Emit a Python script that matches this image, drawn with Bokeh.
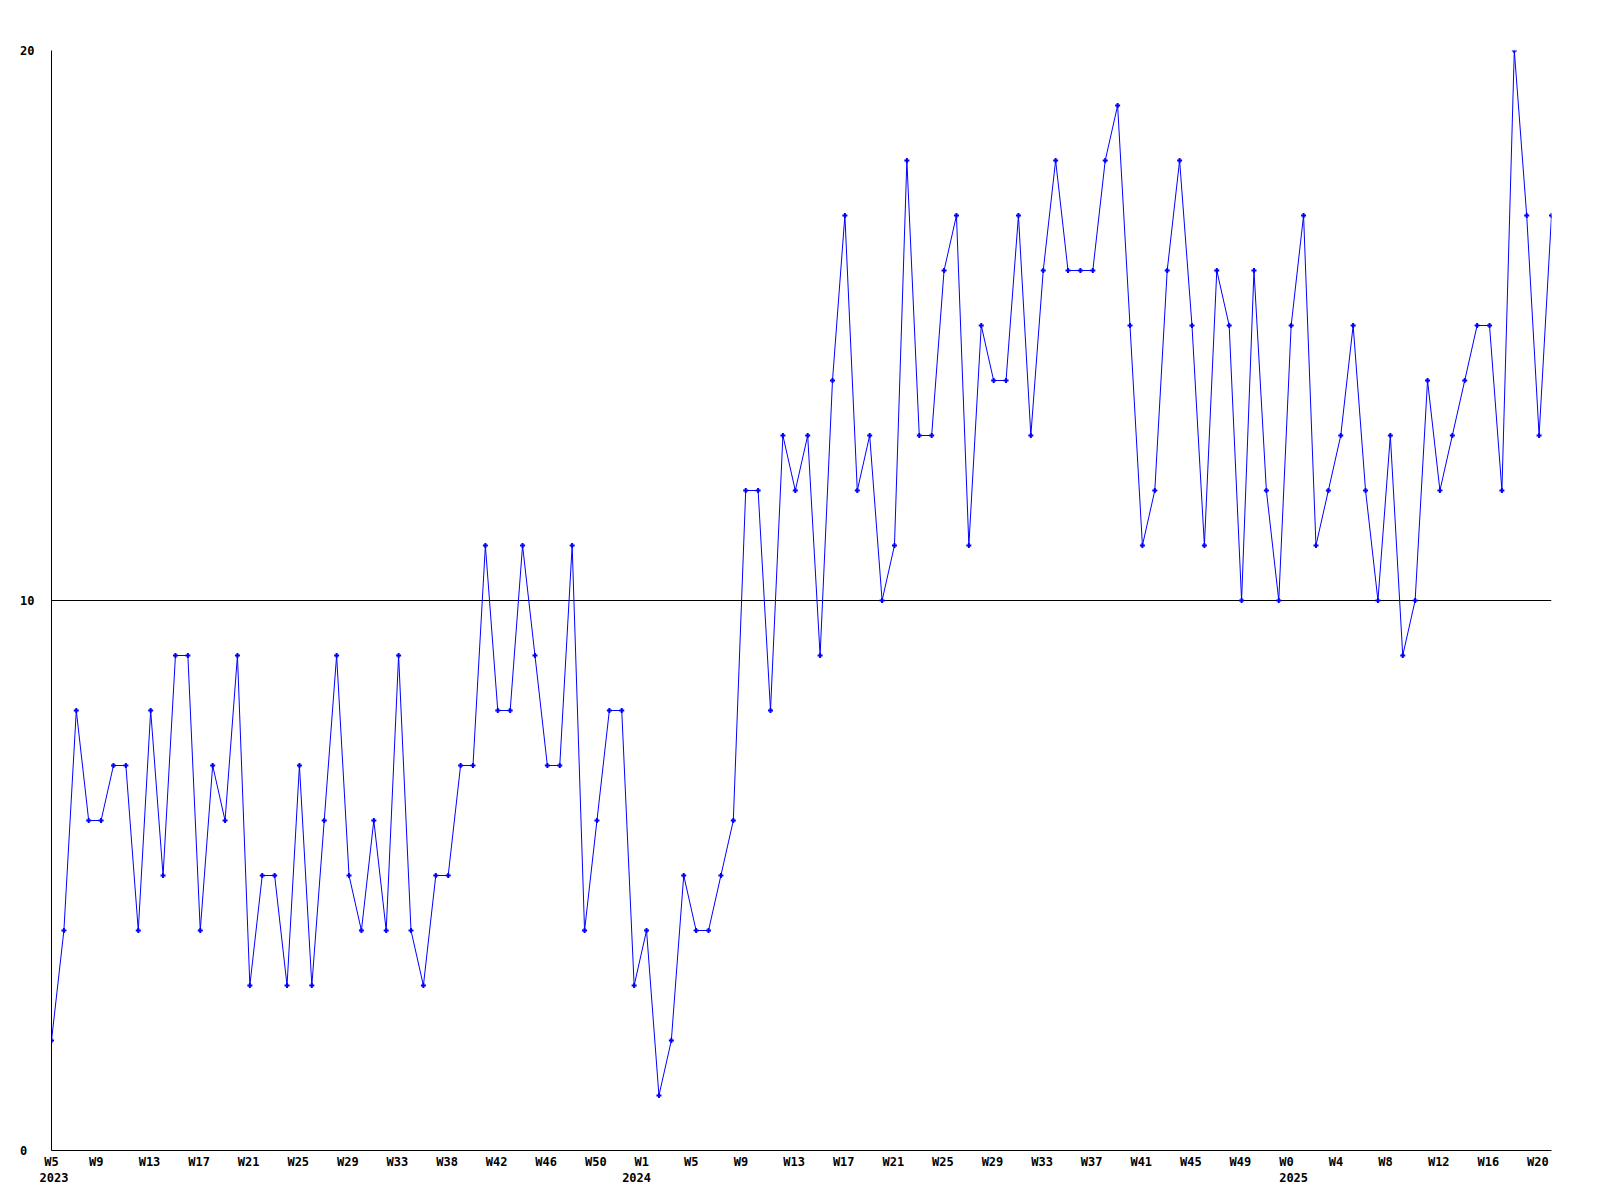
from bokeh.plotting import figure
from bokeh.models import FixedTicker, LinearAxis, Range1d
from bokeh.embed import file_html
from bokeh.resources import INLINE

# Weekly values, 2023 W5 .. 2025 W21 (122 weeks)
values = [
    2, 4, 8, 6, 6, 7, 7, 4, 8, 5, 9, 9, 4, 7, 6, 9, 3, 5, 5, 3,
    7, 3, 6, 9, 5, 4, 6, 4, 9, 4, 3, 5, 5, 7, 7, 11, 8, 8, 11, 9,
    7, 7, 11, 4, 6, 8, 8, 3, 4, 1, 2, 5, 4, 4, 5, 6, 12, 12, 8, 13,
    12, 13, 9, 14, 17, 12, 13, 10, 11, 18, 13, 13, 16, 17, 11, 15, 14, 14, 17, 13,
    16, 18, 16, 16, 16, 18, 19, 15, 11, 12, 16, 18, 15, 11, 16, 15, 10, 16, 12, 10,
    15, 17, 11, 12, 13, 15, 12, 10, 13, 9, 10, 14, 12, 13, 14, 15, 15, 12, 20, 17,
    13, 17,
]

week_labels = ["W5", "W9", "W13", "W17", "W21", "W25", "W29", "W33", "W38", "W42",
               "W46", "W50", "W1", "W5", "W9", "W13", "W17", "W21", "W25", "W29",
               "W33", "W37", "W41", "W45", "W49", "W0", "W4", "W8", "W12", "W16", "W20"]
week_label_index = list(range(0, 121, 4))
year_labels = ["2023", "2024", "2025"]
year_label_index = [0, 47, 100]
y_ticks = [0, 10, 20]
y_tick_labels = ["0", "10", "20"]

FONT = "DejaVu Sans Mono"
FRAME_W = 1500
N = len(values)
PX_PER_WEEK = FRAME_W / (N - 1)
CHAR_W = 7.22      # approx. width of one 12px mono glyph
LEFT_SHIFT = 12    # labels start about 12px left of their week


def label_pos(i, text):
    # labels are left-anchored ~12px before the week; axis centres them
    off = (len(text) * CHAR_W / 2 - LEFT_SHIFT) / PX_PER_WEEK
    return round(max(0.0, i + off), 3)


x = list(range(N))

p = figure(output_backend="svg", toolbar_location=None,
           frame_width=FRAME_W, frame_height=1100,
           min_border_left=51, min_border_right=49,
           min_border_top=50, min_border_bottom=50,
           x_range=Range1d(0, N - 1), y_range=Range1d(0, 20),
           background_fill_color="white", border_fill_color="white")
p.outline_line_color = None

# y axis and grid (labels are left-aligned in a 2-character column)
p.yaxis.ticker = FixedTicker(ticks=y_ticks)
p.yaxis.major_label_overrides = {t: s.ljust(2, "\u00a0") for t, s in zip(y_ticks, y_tick_labels)}
p.yaxis.major_tick_line_color = None
p.yaxis.major_tick_out = 0
p.yaxis.major_tick_in = 0
p.yaxis.minor_tick_line_color = None
p.yaxis.major_label_standoff = 17
p.yaxis.major_label_text_font = FONT
p.yaxis.major_label_text_font_style = "bold"
p.yaxis.major_label_text_font_size = "12px"
p.yaxis.major_label_text_color = "black"
p.yaxis.axis_line_color = "black"
p.ygrid.ticker = FixedTicker(ticks=y_ticks)
p.ygrid.grid_line_color = "black"
p.ygrid.grid_line_alpha = 1.0
p.xgrid.grid_line_color = None


def style_x(ax, ticks, labels, standoff, line=True):
    ax.ticker = FixedTicker(ticks=ticks)
    ax.major_label_overrides = {t: s for t, s in zip(ticks, labels)}
    ax.major_tick_line_color = None
    ax.major_tick_out = 0
    ax.major_tick_in = 0
    ax.minor_tick_line_color = None
    ax.major_label_standoff = standoff
    ax.major_label_text_font = FONT
    ax.major_label_text_font_style = "bold"
    ax.major_label_text_font_size = "12px"
    ax.major_label_text_color = "black"
    ax.axis_line_color = "black" if line else None


wk_ticks = [label_pos(i, s) for i, s in zip(week_label_index, week_labels)]
style_x(p.xaxis[0], wk_ticks, week_labels, 4)

yr_ticks = [label_pos(i, s) for i, s in zip(year_label_index, year_labels)]
yr_axis = LinearAxis()
style_x(yr_axis, yr_ticks, year_labels, 1, line=False)
p.add_layout(yr_axis, "below")

p.line(x, values, line_color="#0000ff", line_width=1)
p.scatter(x, values, marker="cross", size=5, line_width=2, color="#0000ff")

open("out.html", "w").write(file_html(p, INLINE))
